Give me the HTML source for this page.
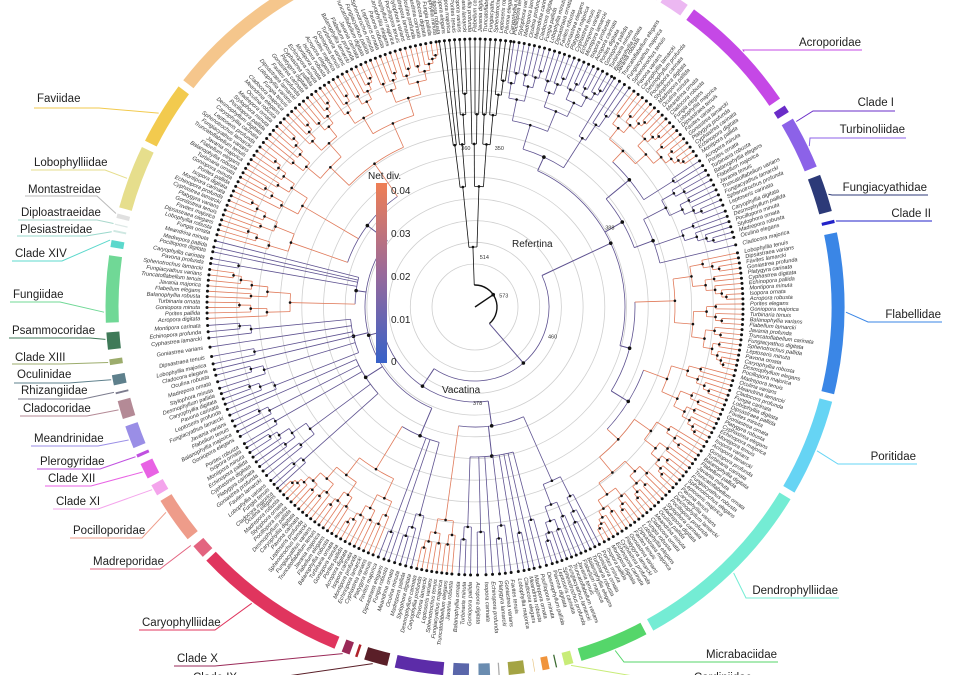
<!DOCTYPE html>
<html><head><meta charset="utf-8">
<style>
html,body{margin:0;padding:0;background:#fff;}
svg{display:block;font-family:"Liberation Sans",sans-serif;}
</style></head>
<body>
<svg id="chart" width="954" height="675" viewBox="0 0 954 675" xmlns="http://www.w3.org/2000/svg">
<defs>
<linearGradient id="netdiv" x1="0" y1="0" x2="0" y2="1">
<stop offset="0" stop-color="#ef7f55"/><stop offset="0.5" stop-color="#9a6a9a"/><stop offset="1" stop-color="#3761c8"/>
</linearGradient>
</defs>
<g id="grid"></g>
<g id="tree"></g>
<g id="tips"></g>
<g id="ring"></g>
<g id="labels"></g>
<g>
<text x="368" y="179" font-size="10" fill="#222">Net div.</text>
<rect x="376" y="183" width="11" height="180" fill="url(#netdiv)"/>
<text x="391" y="194" font-size="10" fill="#222">0.04</text>
<text x="391" y="237" font-size="10" fill="#222">0.03</text>
<text x="391" y="280" font-size="10" fill="#222">0.02</text>
<text x="391" y="323" font-size="10" fill="#222">0.01</text>
<text x="391" y="365" font-size="10" fill="#222">0</text>
</g>
<text x="512" y="247" font-size="10" fill="#222">Refertina</text>
<text x="442" y="393" font-size="10" fill="#222">Vacatina</text>
</svg>
<script>
const CX=475, CY=307;
const famNames=["Outgroup","Unnamed-A","Unnamed-B","Acroporidae","Clade I","Turbinoliidae","Fungiacyathidae","Clade II","Flabellidae","Poritidae","Dendrophylliidae","Micrabaciidae","Lime","Anthemiphylliidae","Orange","Tan","Olive","Gray","Steel","Slate","Agariciidae","Clade IX","Red","Clade X","Caryophylliidae","Madreporidae","Pocilloporidae","Clade XI","Clade XII","Plerogyridae","Meandrinidae","Cladocoridae","Rhizangiidae","Oculinidae","Clade XIII","Psammocoridae","Fungiidae","Clade XIV","Plesiastreidae","Diploastraeidae","Montastreidae","Lobophylliidae","Faviidae","Merulinidae"];
const famStart=[352,8,31,36,56.6,59,68.7,76,78,104.5,121,152,164.2,166.8,168,170.3,171.9,176,177.3,180.6,184.6,193.4,198.2,199.5,202,227.1,230.7,239,242,245.6,247.2,252,256,257.4,260.6,263,267.2,279,281.4,282.5,283.6,285.3,296.4,307.5];
const famEnd=[368,31,35.5,56,58.5,68,75.3,77.2,104,120.5,151.5,163.6,166.3,167.7,169.8,171.1,175.1,176.5,179.8,183.8,192.9,197.8,199.3,201.5,227,230,238.7,241.5,245.2,246.8,251.5,255.6,257,259.7,262.2,266.4,278.4,280.8,282.4,283.4,285,296,307,352];
const famColors=["#f5c68c","#e8b8f0","#ecb8f2","#c548e6","#6a2cc8","#8c62e8","#2c3a78","#2222c8","#3a86e6","#66d4f4","#74ecd4","#55d66a","#c8ec78","#3a6a30","#f0943c","#e6c27e","#a4a444","#aaaaaa","#6a8cb0","#5a66aa","#5c2ca8","#5a1f28","#b0222a","#9a2a58","#e0355e","#e36480","#ee9c8a","#f4a4ec","#e862e4","#c050e0","#9a8ee6","#b48a96","#7c7c8e","#5e808c","#9cac6c","#3f7a58","#70d896","#5cd8cc","#cfe8e2","#dde8e6","#e0e0e0","#e6de8c","#f2ca4e","#f5c68c"];
const famCrown=[60,190,200,215,235,215,220,250,200,205,195,190,220,240,230,240,220,250,225,220,215,215,250,240,190,230,205,230,230,250,215,220,250,225,240,225,185,240,250,250,250,195,200,175];
const famFast=[2,0,0,1,0,0,0,0,1,1,1,0,0,0,0,0,0,0,0,0,1,0,0,0,1,0,0,0,0,0,0,0,0,0,0,0,1,0,0,0,0,1,1,1];
const genera=["Montipora","Isopora","Acropora","Porites","Goniopora","Turbinaria","Balanophyllia","Flabellum","Javania","Truncatoflabellum","Fungiacyathus","Sphenotrochus","Leptoseris","Pavona","Caryophyllia","Desmophyllum","Pocillopora","Stylophora","Madrepora","Oculina","Meandrina","Cladocora","Fungia","Lobophyllia","Dipsastraea","Favites","Goniastrea","Platygyra","Cyphastrea","Echinopora"];
const epithets=["robusta","elegans","majorica","tenuis","varians","lamarcki","profunda","carinata","digitata","pallida","minuta","ornata"];
const BR={0:"#5e5290",1:"#e07a5a",2:"#111"};
const tree={r:22,k:[{f:0},{r:74,k:[
 {r:150,k:[{r:165,k:[1,2]},{r:170,k:[{r:200,k:[3,4]},{r:190,k:[5,6,7]}]},{r:160,k:[8,{r:180,k:[9,10]}]}]},
 {r:95,k:[{r:120,k:[11,{r:150,k:[12,13,14,15,16,17,18,19]},20]},
  {r:110,k:[{r:140,k:[21,22,23,24]},{r:130,k:[25,26,27,28,29]},{r:125,k:[30,31,32,33,34,35]},{r:120,k:[36,37,38,39,40]},{r:135,k:[41,42,43]}]}]}
]}]};
const NS="http://www.w3.org/2000/svg";
function P(r,a){const t=a*Math.PI/180;return [CX+r*Math.sin(t),CY-r*Math.cos(t)];}
function mk(tag,attrs,parent){const e=document.createElementNS(NS,tag);for(const k in attrs)e.setAttribute(k,attrs[k]);parent.appendChild(e);return e;}
const gGrid=document.getElementById('grid'),gTree=document.getElementById('tree'),gTips=document.getElementById('tips'),gRing=document.getElementById('ring'),gLab=document.getElementById('labels');
for(let i=0;i<11;i++){const c=mk('circle',{cx:CX,cy:CY,r:43+21.7*i,fill:'none',stroke:'#cfcfcf','stroke-width':0.8},gGrid);

}
const TIPR=268;
function line(r1,r2,a,col,w){const p=P(r1,a),q=P(r2,a);const l=mk('line',{x1:p[0],y1:p[1],x2:q[0],y2:q[1],stroke:col,'stroke-width':w||0.8},gTree);

}
function arc(r,a1,a2,col,w){if(a2-a1<0.01)return;const p=P(r,a1),q=P(r,a2);const large=(a2-a1)>180?1:0;const e=mk('path',{d:`M${p[0]},${p[1]}A${r},${r} 0 ${large} 1 ${q[0]},${q[1]}`,fill:'none',stroke:col,'stroke-width':w||0.8},gTree);

}
function dot(r,a,rad){const p=P(r,a);const d=mk('circle',{cx:p[0],cy:p[1],r:rad||1.5,fill:'#111'},gTree);

}
let tipCount=0;
function famTips(fi){const a0=famStart[fi],a1=famEnd[fi];const n=Math.max(1,Math.round((a1-a0)/1.1));const out=[];for(let i=0;i<n;i++)out.push(n==1?(a0+a1)/2:a0+0.35+(a1-a0-0.7)*i/(n-1));return out;}
function sub(angles,r0,col,fi){
 if(angles.length==1){const a=angles[0];return {a:a,draw:(pr)=>{line(pr,TIPR,a,col);tip(a,fi);}};}
 const m=Math.max(1,Math.floor(angles.length*0.42));
 const L=angles.slice(0,m),R=angles.slice(m);
 const rc=r0+(262-r0)*0.3;
 const cl=sub(L,rc,col,fi),cr=sub(R,rc,col,fi);
 const a=(cl.a+cr.a)/2;
 return {a:a,draw:(pr)=>{line(pr,r0,a,col);arc(r0,cl.a,cr.a,col);dot(r0,a,1.3);cl.draw(r0);cr.draw(r0);}};
}
function build(node){
 if(typeof node==='number'||node.f!==undefined){const fi=typeof node==='number'?node:node.f;const col=BR[famFast[fi]];return sub(famTips(fi),famCrown[fi],col,fi);}
 const kids=node.k.map(build);
 if(node.r<=22){
  const a0=kids[0].a-360,a1=kids[kids.length-1].a;
  return {a:(a0+a1)/2,draw:(pr)=>{arc(node.r,a0,a1,'#111',1.4);kids.forEach(k=>k.draw(node.r));}};
 }
 const a=(kids[0].a+kids[kids.length-1].a)/2;
 const col='#5e5290';
 return {a:a,draw:(pr)=>{line(pr,node.r,a,col,1);arc(node.r,kids[0].a,kids[kids.length-1].a,col);dot(node.r,a,1.8);kids.forEach(k=>k.draw(node.r));}};
}
function tip(a,fi){
 const p=P(TIPR,a);const d=mk('circle',{cx:p[0],cy:p[1],r:1.5,fill:'#111'},gTips);
 
 
 const q=P(275,a);const am=((a%360)+360)%360;const left=am>180;
 const name=genera[(fi+tipCount)%genera.length]+' '+epithets[tipCount%epithets.length];tipCount++;
 const t=mk('text',{x:q[0],y:q[1],'font-size':5.6,'font-style':'italic',fill:'#333','dominant-baseline':'middle','text-anchor':left?'end':'start',transform:`rotate(${left?am+90:am-90} ${q[0]} ${q[1]})`},gTips);
 t.textContent=name;
 
 
}
const root=build(tree);
root.draw(0);
line(0,22,56,'#111',1.4);
dot(22,56,1.8);
// ring
famNames.forEach((n,i)=>{const a1=famStart[i]+0.35,a2=famEnd[i]-0.35;const p=P(363,a1),q=P(363,a2);
 const e=mk('path',{d:`M${p[0]},${p[1]}A363,363 0 0 1 ${q[0]},${q[1]}`,fill:'none',stroke:famColors[i],'stroke-width':13},gRing);
 
 });
// labels
const labs=[
["Faviidae","L",37,102,99,108,301.5,"#f2ca4e"],["Lobophylliidae","L",34,166,105,170,290.3,"#e6de8c"],["Montastreidae","L",28,193,97,196,284.6,"#bbbbbb"],
["Diploastraeidae","L",21,216,97,220,283,"#aad8cc"],["Plesiastreidae","L",20,233,86,236,281.7,"#9ad8cc"],["Clade XIV","L",15,257,62,261,280.4,"#5cd8cc"],
["Fungiidae","L",13,298,60,302,269.2,"#70d896"],["Psammocoridae","L",12,334,90,338,265,"#3f7a58"],["Clade XIII","L",15,361,61,364,261.4,"#9cac6c"],
["Oculinidae","L",17,378,69,383,258.7,"#5e808c"],["Rhizangiidae","L",21,394,83,399,256.7,"#7c7c8e"],["Cladocoridae","L",23,412,87,416,253.9,"#b48a96"],
["Meandrinidae","L",34,442,98,446,249,"#9a8ee6"],["Plerogyridae","L",40,465,100,469,246.2,"#c050e0"],["Clade XII","L",48,482,91,486,243.6,"#e862e4"],
["Clade XI","L",56,505,98,509,240.5,"#f4a4ec"],["Pocilloporidae","L",73,534,142,538,236.4,"#ee9c8a"],["Madreporidae","L",93,565,160,569,230,"#e36480"],
["Caryophylliidae","L",142,626,215,630,217,"#e0355e"],["Clade X","L",177,662,215,666,200.9,"#9a2a58"],["Clade IX","L",193,681,232,684,196,"#5a1f28"],
["Acroporidae","R",861,46,743,50,46.5,"#c548e6"],["Clade I","R",894,106,813,111,60,"#6a2cc8"],["Turbinoliidae","R",905,133,810,138,64.3,"#8c62e8"],
["Fungiacyathidae","R",927,191,832,195,72.3,"#2c3a78"],["Clade II","R",931,217,838,221,76.6,"#2222c8"],["Flabellidae","R",941,318,868,322,90.8,"#3a86e6"],
["Poritidae","R",916,460,838,464,112.8,"#66d4f4"],["Dendrophylliidae","R",838,594,746,598,135.8,"#74ecd4"],["Micrabaciidae","R",777,658,624,662,157.8,"#55d66a"],
["Cardiniidae","R",752,681,680,684,165,"#c8ec78"]];
labs.forEach(L=>{const [txt,side,tx,ty,ux,uy,ang,col]=L;
 const g=mk('g',{},gLab);
 
 
 const t=mk('text',{x:tx,y:ty,'font-size':11.5,fill:'#222','text-anchor':side=='L'?'start':'end'},g);t.textContent=txt;
 const rp=P(371,ang);
 let pts;
 if(side=='L'){pts=`${tx-3},${uy} ${ux},${uy} ${rp[0]},${rp[1]}`;}
 else{pts=`${tx+1},${uy} ${ux},${uy} ${rp[0]},${rp[1]}`;}
 mk('polyline',{points:pts,fill:'none',stroke:col,'stroke-width':1},g);
});
// selected node ages
[[573,24,62],[514,50,2],[460,76,113],[388,150,58],[378,96,183],[360,160,-6],[350,160,6]].forEach(v=>{const p=P(v[1],v[2]);const t=mk('text',{x:p[0]+3,y:p[1]+2,'font-size':5.5,fill:'#333'},gLab);t.textContent=v[0];
 
 });
</script>
</body></html>
